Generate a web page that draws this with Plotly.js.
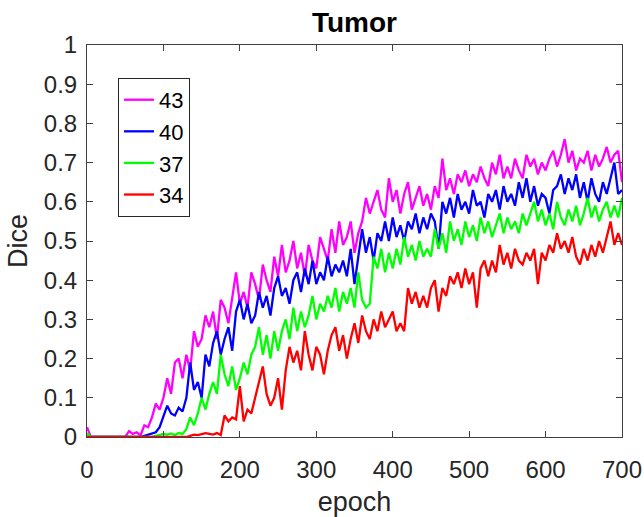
<!DOCTYPE html>
<html>
<head>
<meta charset="utf-8">
<script src="https://cdn.plot.ly/plotly-3.0.1.min.js"></script>
<style>html,body{margin:0;padding:0;background:#fff;}</style>
</head>
<body>
<div id="chart" style="width:644px;height:517px;"></div>
<script>
// Dice per epoch, sampled every 5 epochs (0..700)
const epochStep = 5;
const seriesNames = ["43", "40", "37", "34"];
const dice43 = [
  0.025,0,0,0,0,0,0,0,0,0,
  0,0.015,0.008,0.012,0.004,0.03,0.025,0.05,0.085,0.07,
  0.1,0.15,0.11,0.19,0.2,0.15,0.21,0.17,0.27,0.23,
  0.25,0.31,0.28,0.32,0.25,0.35,0.33,0.29,0.36,0.42,
  0.34,0.37,0.33,0.42,0.39,0.35,0.44,0.4,0.37,0.46,
  0.41,0.49,0.42,0.45,0.5,0.43,0.47,0.41,0.49,0.45,
  0.43,0.51,0.48,0.45,0.53,0.47,0.55,0.49,0.51,0.55,
  0.47,0.52,0.55,0.61,0.57,0.6,0.63,0.58,0.56,0.66,
  0.6,0.63,0.57,0.62,0.65,0.58,0.61,0.64,0.59,0.62,
  0.58,0.64,0.61,0.71,0.63,0.66,0.62,0.67,0.65,0.68,
  0.64,0.67,0.65,0.69,0.66,0.64,0.7,0.67,0.72,0.66,
  0.69,0.66,0.71,0.68,0.66,0.72,0.69,0.71,0.67,0.7,
  0.68,0.71,0.73,0.69,0.72,0.76,0.7,0.73,0.68,0.71,
  0.7,0.73,0.68,0.72,0.69,0.71,0.74,0.7,0.72,0.73,
  0.65
];
const dice40 = [
  0,0,0,0,0,0,0,0,0,0,
  0,0,0,0,0,0.003,0.006,0.01,0.012,0.025,
  0.05,0.08,0.06,0.055,0.075,0.065,0.1,0.19,0.12,0.14,
  0.1,0.21,0.18,0.24,0.27,0.21,0.25,0.28,0.22,0.32,
  0.35,0.3,0.34,0.29,0.31,0.37,0.33,0.36,0.31,0.38,
  0.41,0.36,0.38,0.34,0.4,0.42,0.37,0.43,0.39,0.45,
  0.39,0.42,0.4,0.46,0.41,0.44,0.42,0.45,0.41,0.48,
  0.39,0.46,0.53,0.47,0.51,0.45,0.52,0.5,0.55,0.5,
  0.56,0.51,0.54,0.5,0.55,0.53,0.57,0.52,0.56,0.53,
  0.57,0.55,0.48,0.6,0.57,0.61,0.56,0.62,0.58,0.6,
  0.57,0.63,0.59,0.6,0.56,0.62,0.6,0.63,0.58,0.64,
  0.6,0.62,0.59,0.65,0.61,0.66,0.6,0.64,0.59,0.62,
  0.61,0.57,0.63,0.64,0.67,0.62,0.66,0.63,0.67,0.61,
  0.65,0.6,0.66,0.62,0.6,0.65,0.62,0.66,0.7,0.62,
  0.63
];
const dice37 = [
  0.01,0,0,0,0,0,0,0,0,0,
  0,0,0,0,0,0,0,0,0.003,0.005,
  0.008,0.006,0.009,0.005,0.01,0.008,0.02,0.05,0.03,0.06,
  0.1,0.07,0.11,0.14,0.11,0.21,0.16,0.13,0.18,0.12,
  0.15,0.19,0.16,0.21,0.23,0.28,0.21,0.26,0.2,0.27,
  0.22,0.27,0.3,0.25,0.33,0.27,0.32,0.28,0.31,0.36,
  0.3,0.34,0.32,0.36,0.33,0.38,0.32,0.37,0.34,0.38,
  0.33,0.42,0.35,0.33,0.34,0.46,0.43,0.48,0.42,0.47,
  0.43,0.48,0.44,0.51,0.46,0.49,0.45,0.5,0.46,0.48,
  0.46,0.53,0.48,0.52,0.47,0.55,0.5,0.53,0.49,0.55,
  0.51,0.54,0.5,0.56,0.52,0.55,0.51,0.54,0.57,0.52,
  0.56,0.53,0.55,0.52,0.57,0.54,0.57,0.6,0.55,0.58,
  0.54,0.57,0.53,0.6,0.56,0.54,0.58,0.55,0.59,0.54,
  0.57,0.61,0.56,0.59,0.55,0.58,0.6,0.56,0.59,0.56,
  0.61
];
const dice34 = [
  0,0,0,0,0,0,0,0,0,0,
  0,0,0,0,0,0,0,0,0,0,
  0,0,0,0,0,0,0,0.003,0.006,0.005,
  0.007,0.01,0.008,0.006,0.01,0.005,0.055,0.04,0.05,0.045,
  0.13,0.04,0.07,0.06,0.1,0.14,0.18,0.11,0.08,0.1,
  0.15,0.07,0.17,0.23,0.19,0.22,0.17,0.27,0.21,0.17,
  0.23,0.21,0.16,0.22,0.26,0.28,0.22,0.26,0.2,0.25,
  0.29,0.24,0.31,0.27,0.25,0.3,0.27,0.32,0.28,0.3,
  0.32,0.27,0.29,0.27,0.38,0.34,0.37,0.33,0.36,0.33,
  0.38,0.4,0.32,0.38,0.36,0.41,0.39,0.42,0.38,0.43,
  0.39,0.42,0.33,0.43,0.45,0.41,0.45,0.42,0.49,0.44,
  0.47,0.43,0.48,0.45,0.44,0.47,0.45,0.48,0.39,0.47,
  0.45,0.49,0.47,0.52,0.48,0.5,0.47,0.51,0.46,0.44,
  0.48,0.45,0.49,0.46,0.5,0.47,0.51,0.55,0.49,0.52,
  0.49
];
const seriesColors = ["#ff00ff", "#0000ff", "#00ff00", "#ff0000"];
const xTickVals = [0, 100, 200, 300, 400, 500, 600, 700];
const yTickVals = [0, 0.1, 0.2, 0.3, 0.4, 0.5, 0.6, 0.7, 0.8, 0.9, 1];

const allSeries = [dice43, dice40, dice37, dice34];
const traces = allSeries.map((vals, k) => ({
  type: "scatter",
  mode: "lines",
  name: seriesNames[k],
  x: vals.map((_, i) => i * epochStep),
  y: vals,
  line: {color: seriesColors[k], width: 2.3}
}));

const FONT = "Liberation Sans, Arial, sans-serif";
const axisCommon = {
  showline: true, linecolor: "#404040", linewidth: 1, mirror: "ticks",
  ticks: "inside", ticklen: 6, tickcolor: "#404040", tickwidth: 1,
  showgrid: false, zeroline: false,
  tickfont: {family: FONT, size: 24, color: "#262626"}
};

const layout = {
  width: 644, height: 517,
  margin: {l: 87, r: 22, t: 45, b: 80},
  paper_bgcolor: "#ffffff", plot_bgcolor: "#ffffff",
  font: {family: FONT, color: "#262626"},
  title: {
    text: "<b>Tumor</b>",
    font: {family: FONT, size: 28, color: "#000000"},
    xref: "paper", x: 0.5, xanchor: "center",
    yref: "container", y: 0.958, yanchor: "middle"
  },
  xaxis: Object.assign({}, axisCommon, {
    range: [0, 700], tickvals: xTickVals, ticklabelstandoff: 11,
    title: {text: "epoch", font: {family: FONT, size: 27, color: "#262626"}, standoff: 12}
  }),
  yaxis: Object.assign({}, axisCommon, {
    range: [0, 1], tickvals: yTickVals, ticklabelstandoff: 4,
    title: {text: "Dice", font: {family: FONT, size: 27, color: "#262626"}, standoff: 8}
  }),
  showlegend: true,
  legend: {
    x: 0.058, y: 0.916, xanchor: "left", yanchor: "top",
    bgcolor: "#ffffff", bordercolor: "#262626", borderwidth: 1,
    font: {family: FONT, size: 22, color: "#000000"},
    tracegroupgap: 0
  }
};

Plotly.newPlot("chart", traces, layout, {displayModeBar: false, staticPlot: true});
</script>
</body>
</html>
